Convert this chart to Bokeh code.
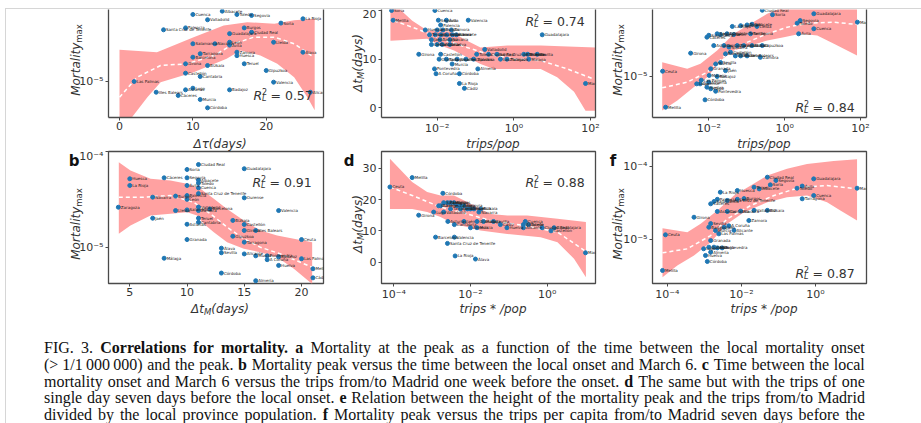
import html as _html
import numpy as np
from bokeh.plotting import figure
from bokeh.models import Range1d, FixedTicker, CustomJSTickFormatter, LinearAxis, Label, Div
from bokeh.layouts import row, column
from bokeh.embed import file_html
from bokeh.resources import INLINE
from bokeh.core.properties import value

# ---------------- panel a : Mortality peak vs delta tau (days) ----------------
a_days = [10, 14, 16, 18, 12, 25, 22, 6, 9, 17, 18, 15, 10, 13, 15, 15, 21, 25, 16, 16,
          10, 11, 17, 9, 12, 20, 9, 11, 2, 21, 9, 10, 5, 8, 15, 26, 11, 12]
a_log_mort = [-4.30, -4.265, -4.30, -4.31, -4.355, -4.345, -4.39, -4.46, -4.44, -4.44,
              -4.485, -4.50, -4.606, -4.606, -4.59, -4.62, -4.59, -4.694, -4.694, -4.73,
              -4.746, -4.71, -4.815, -4.815, -4.833, -4.885, -4.913, -4.948, -5.0, -5.007,
              -5.087, -5.07, -5.112, -5.146, -5.087, -5.112, -5.188, -5.275]
a_names = ["Cuenca", "Albacete", "Toledo", "Segovia", "Valladolid", "La Rioja", "Soria",
           "Santa Cruz de Tenerife", "Palencia", "Burgos", "Ciudad Real", "Guadalajara",
           "Salamanca", "Navarra", "León", "Ávila", "Lleida", "Álava", "Zamora", "Huesca",
           "Barcelona", "Tarragona", "Teruel", "Girona", "Bizkaia", "Gipuzkoa", "Castellón",
           "Cantabria", "Las Palmas", "Valencia", "Asturias", "Lugo", "Illes Balears",
           "Cáceres", "Badajoz", "Alicante", "Murcia", "Córdoba"]
a_up_x = [0, 5.1, 10.1, 14.2, 17.4, 21.1, 23.8, 26.6]
a_up = [-4.669, -4.694, -4.537, -4.415, -4.38, -4.397, -4.36, -4.345]
a_lo_x = [0, 1.7, 3.8, 5.6, 10.1, 14.6, 16.5, 19.2, 21.5, 23.8, 25.6, 26.6]
a_lo = [-5.6, -5.373, -5.164, -5.007, -4.903, -4.763, -4.676, -4.728, -4.815, -4.955, -5.164, -5.30]
a_fit_x = [0, 2.4, 5.6, 9.2, 12.9, 15.6, 18.3, 21.1, 23.8, 26.5]
a_fit = [-5.164, -4.955, -4.833, -4.815, -4.728, -4.606, -4.537, -4.537, -4.606, -4.746]

# ---------------- panel c : delta t_M vs trips/pop ----------------
c_log_trips = [-3.19, -3.15, -2.06, -1.97, -1.76, -1.19, -1.91, -2.0, -2.31, -1.85,
               -1.63, -2.2, -2.05, -1.9, -1.75, -1.6, -1.5, 0.74, -2.15, -1.93,
               -1.67, -2.15, -2.0, -1.87, -1.67, -2.48, -1.91, -1.95, -1.76, -1.61,
               -1.48, -0.76, -0.66, -0.97, -0.44, -0.35, -0.18, 0.26, 0.36, 0.61,
               0.39, -0.94, -2.07, -2.03, -1.42, -1.42, -1.29, 1.87, -1.25, -1.05]
c_days = [20, 18, 20, 18, 18, 18, 17, 16, 16, 16, 16, 15, 15, 15, 15, 15, 15, 15, 14, 14,
          14, 13, 13, 13, 13, 11, 11, 10, 10, 9, 10, 12, 11, 11, 11, 10, 10, 11, 11, 11,
          10, 8, 8, 7, 7, 5, 4, 5, 10, 10]
c_names = ["Soria", "Melilla", "Cuenca", "Segovia", "Ávila", "Valencia", "Palencia", "León",
           "Huesca", "Burgos", "Zamora", "Teruel", "Lugo", "Ourense", "Salamanca", "Cáceres",
           "Albacete", "Guadalajara", "Jaén", "Badajoz", "Navarra", "Lleida", "Cantabria",
           "Asturias", "Huelva", "Girona", "Castellón", "Granada", "Tarragona", "Murcia",
           "Alicante", "Valladolid", "Ciudad Real", "Toledo", "Santa Cruz de Tenerife",
           "Las Palmas", "Zaragoza", "Barcelona", "Bizkaia", "Sevilla", "Málaga", "Almería",
           "Pontevedra", "A Coruña", "Córdoba", "La Rioja", "Cádiz", "Madrid",
           "Illes Balears", "Gipuzkoa"]
c_up_x = [-3.22, -2.65, -2.26, -1.65, -1.22, -0.87, -0.17, 0.70, 2.13]
c_up = [22.0, 17.9, 15.9, 15.7, 13.8, 12.4, 12.8, 12.8, 12.4]
c_lo_x = [-3.22, -2.26, -1.91, -1.56, -1.22, -0.87, -0.52, 0.70, 1.13, 1.57, 1.87, 2.13]
c_lo = [13.8, 14.2, 12.8, 11.8, 10.4, 9.0, 8.0, 8.0, 6.3, 3.3, -0.6, -0.6]
c_fit_x = [-3.13, -2.52, -1.91, -1.22, -0.70, 0.0, 0.70, 1.39, 2.09]
c_fit = [17.9, 16.2, 14.2, 12.4, 11.1, 10.05, 9.7, 8.0, 5.9]

# ---------------- panel e : Mortality peak vs trips/pop ----------------
e_log_trips = [-3.14, -3.22, -2.48, -2.32, -2.23, -2.10, -2.05, -2.0, -1.95, -1.99,
               -1.95, -1.82, -2.05, -2.0, -1.78, -1.69, -1.52, -1.34, -1.87, -1.6,
               -1.47, -1.25, -1.08, -0.86, -0.59, -1.38, -1.16, -0.99, -0.86, -0.73,
               -0.59, -0.32, -0.90, 0.33, 0.41, 0.77, 0.37, 0.77, 1.92, -1.56,
               -1.43, -1.30, -1.16, -0.99, -0.64, -1.69, -1.56, -1.78, -2.2, -1.82]
e_log_mort = [-5.417, -4.928, -4.683, -5.10, -5.10, -5.317, -5.145, -5.077, -5.167, -4.986,
              -4.896, -4.83, -4.466, -4.44, -4.42, -4.43, -4.42, -4.43, -4.58, -4.58,
              -4.60, -4.58, -4.58, -4.58, -4.58, -4.32, -4.31, -4.30, -4.29, -4.32,
              -4.10, -4.16, -4.42, -4.276, -4.24, -4.148, -4.42, -4.352, -4.262, -4.692,
              -4.67, -4.72, -4.72, -4.72, -4.74, -4.81, -4.92, -5.0, -5.05, -5.20]
e_names = ["Melilla", "Ceuta", "Girona", "Lugo", "Ourense", "Córdoba", "Huelva", "Almería",
           "Cádiz", "Málaga", "Granada", "Murcia", "Cáceres", "Salamanca",
           "Santa Cruz de Tenerife", "Palencia", "Burgos", "León", "Asturias", "Cantabria",
           "Navarra", "Zaragoza", "Valladolid", "Bizkaia", "Gipuzkoa", "La Rioja", "Huesca",
           "Teruel", "Albacete", "Lleida", "Ciudad Real", "Soria", "Tarragona", "Toledo",
           "Segovia", "Guadalajara", "Ávila", "Cuenca", "Madrid", "Barcelona", "Castellón",
           "Valencia", "Alicante", "Illes Balears", "Zamora", "Sevilla", "Jaén", "Badajoz",
           "Las Palmas", "Pontevedra"]
e_up_x = [-3.23, -2.57, -2.22, -1.78, -1.34, -0.90, -0.46, -0.02, 0.42, 0.86, 1.30, 1.91]
e_up = [-4.806, -4.896, -4.828, -4.647, -4.42, -4.285, -4.149, -4.058, -4.013, -3.95, -3.90, -3.90]
e_lo_x = [-3.23, -2.83, -2.40, -2.04, -1.69, -1.34, -0.90, -0.46, -0.02, 0.42, 0.86, 1.30, 1.91]
e_lo = [-5.462, -5.326, -5.145, -5.009, -4.783, -4.647, -4.579, -4.511, -4.466, -4.42,
        -4.443, -4.556, -4.715]
e_fit_x = [-3.23, -2.57, -2.04, -1.52, -1.08, -0.46, 0.07, 0.60, 1.30, 1.91]
e_fit = [-5.154, -5.077, -4.941, -4.692, -4.556, -4.42, -4.33, -4.276, -4.262, -4.294]

# ---------------- panel b : Mortality peak vs delta t_M ----------------
b_days = [5, 5, 4, 7, 7, 8, 8, 9, 9, 10, 10, 10, 10, 10, 10, 10, 10, 11, 11, 11,
          11, 11, 11, 11, 11, 11, 12, 13, 13, 14, 14, 15, 15, 15, 15, 15, 15, 16, 16, 16,
          17, 17, 18, 18, 18, 20, 20, 21, 21, 13]
b_log_mort = [-4.285, -4.355, -4.582, -4.477, -4.697, -4.275, -5.115, -4.466, -4.617, -4.188,
              -4.275, -4.355, -4.46, -4.50, -4.61, -4.76, -4.92, -4.136, -4.30, -4.33,
              -4.38, -4.44, -4.58, -4.617, -4.697, -4.74, -4.60, -5.058, -5.27, -4.72,
              -4.885, -4.18, -4.484, -4.762, -4.825, -4.947, -5.07, -4.825, -5.09, -5.35,
              -5.09, -5.13, -4.617, -5.10, -5.19, -4.92, -5.12, -5.225, -5.32, -5.01]
b_names = ["Huesca", "La Rioja", "Zaragoza", "Navarra", "Jaén", "Cáceres", "Málaga", "Burgos",
           "Lleida", "Soria", "Segovia", "Ávila", "Palencia", "León", "Salamanca", "Asturias",
           "Granada", "Ciudad Real", "Albacete", "Toledo", "Cuenca", "Santa Cruz de Tenerife",
           "Valladolid", "Zamora", "Teruel", "Cantabria", "Barcelona", "Sevilla", "Córdoba",
           "Bizkaia", "Gipuzkoa", "Guadalajara", "Ourense", "Castellón", "Girona", "Tarragona",
           "Alicante", "Illes Balears", "Murcia", "Almería", "Pontevedra", "A Coruña",
           "Valencia", "Badajoz", "Huelva", "Ceuta", "Las Palmas", "Melilla", "Cádiz", "Álava"]
b_up_x = [4.04, 5.06, 6.81, 8.55, 10.01, 11.17, 12.34, 13.50, 14.96, 16.41, 17.87, 19.33, 20.93]
b_up = [-4.111, -4.199, -4.285, -4.303, -4.338, -4.39, -4.494, -4.60, -4.721, -4.825,
        -4.878, -4.912, -4.947]
b_lo_x = [4.04, 5.06, 6.81, 8.55, 10.01, 10.88, 11.46, 12.34, 13.50, 14.96, 16.41, 17.87,
          19.33, 20.93]
b_lo = [-4.86, -4.773, -4.669, -4.651, -4.634, -4.669, -4.756, -4.843, -4.947, -5.017,
        -5.052, -5.104, -5.226, -5.383]
b_fit_x = [4.04, 6.22, 8.55, 10.59, 12.05, 13.50, 14.96, 16.41, 18.16, 20.93]
b_fit = [-4.477, -4.477, -4.46, -4.53, -4.651, -4.791, -4.912, -5.0, -5.07, -5.209]

# ---------------- panel d : delta t_M vs trips*/pop ----------------
d_log_trips = [-4.10, -3.52, -3.35, -2.72, -2.96, -2.83, -2.78, -2.70, -2.60, -2.52,
               -2.43, -2.35, -2.26, -2.17, -2.08, -2.0, -1.91, -1.78, -2.91, -2.42,
               -2.60, -2.40, -1.87, -2.59, -2.42, -2.17, -1.83, -1.66, -1.40, -1.22,
               -1.05, -2.0, -1.83, -0.62, -0.62, -0.57, -0.49, -0.13, 0.18, 0.10,
               1.0, -2.26, -2.52, -2.70, -1.73]
d_days = [24, 27, 15, 22, 16, 18, 18, 19, 19, 19, 19, 18, 18, 18, 17, 17, 17, 16, 8, 8,
          6, 2, 1, 13, 12, 13, 13, 13, 13, 12, 11, 11, 11, 12, 11, 13, 12, 11, 11, 10,
          3, 17, 17, 16, 17]
d_names = ["Ceuta", "Melilla", "Girona", "Córdoba", "Lugo", "Ourense", "Cáceres", "Salamanca",
           "Palencia", "León", "Burgos", "Zamora", "Ávila", "Segovia", "Soria", "Teruel",
           "Huesca", "Navarra", "Barcelona", "Valencia", "Santa Cruz de Tenerife", "La Rioja",
           "Álava", "Asturias", "Cantabria", "Jaén", "Granada", "Málaga", "Sevilla", "Cádiz",
           "Huelva", "Almería", "Murcia", "Albacete", "Alicante", "Cuenca", "Toledo",
           "Ciudad Real", "Guadalajara", "Castellón", "Madrid", "Lleida", "Tarragona",
           "Valladolid", "Bizkaia"]
d_up_x = [-4.10, -3.52, -3.13, -2.78, -2.43, -2.085, -1.74, -1.48, -1.04, -0.52, 0.27, 1.01]
d_up = [33.0, 25.6, 22.4, 21.3, 21.3, 19.2, 17.0, 15.4, 14.9, 14.9, 13.9, 12.8]
d_lo_x = [-4.10, -3.52, -3.13, -2.78, -2.43, -2.085, -1.74, -1.04, -0.17, 0.27, 0.70, 1.01]
d_lo = [17.0, 17.0, 16.0, 14.4, 12.2, 11.2, 10.1, 9.0, 8.0, 6.4, 1.1, -4.8]
d_fit_x = [-4.10, -3.52, -2.78, -2.085, -1.48, -0.60, 0.27, 1.01]
d_fit = [24.0, 21.3, 17.6, 15.4, 13.3, 11.7, 9.6, 3.4]

# ---------------- panel f : Mortality peak vs trips*/pop ----------------
f_log_trips = [-4.13, -4.05, -3.28, -2.92, -2.97, -2.83, -3.02, -2.88, -2.74, -2.65,
               -2.52, -2.83, -2.88, -2.83, -2.70, -2.61, -2.47, -2.34, -2.20, -2.83,
               -2.74, -2.65, -2.38, -2.11, -1.93, -2.57, -2.11, -1.66, -1.52, -1.22,
               -1.30, -1.07, -2.65, -2.38, -2.02, -1.66, -1.30, -1.80, -0.50, -0.36,
               -0.05, -0.36, -0.05, 1.12]
f_log_mort = [-5.417, -4.932, -4.693, -5.295, -5.213, -5.168, -5.122, -5.10, -5.10, -5.11,
              -5.11, -5.01, -4.829, -4.78, -4.874, -4.919, -4.83, -4.81, -4.87, -4.511,
              -4.48, -4.45, -4.465, -4.45, -4.44, -4.353, -4.33, -4.285, -4.308, -4.253,
              -4.149, -4.194, -4.615, -4.615, -4.61, -4.60, -4.60, -4.738, -4.299, -4.27,
              -4.172, -4.443, -4.398, -4.299]
f_names = ["Melilla", "Ceuta", "Girona", "Córdoba", "Huelva", "Almería", "Lugo", "Ourense",
           "Cádiz", "Málaga", "Pontevedra", "Granada", "Badajoz", "Sevilla", "Murcia",
           "Las Palmas", "Jaén", "A Coruña", "Alicante", "Cáceres", "Salamanca", "Palencia",
           "Santa Cruz de Tenerife", "León", "Burgos", "La Rioja", "Huesca", "Teruel",
           "Albacete", "Soria", "Ciudad Real", "Segovia", "Asturias", "Cantabria", "Navarra",
           "Valladolid", "Bizkaia", "Zamora", "Toledo", "Ávila", "Guadalajara", "Tarragona",
           "Cuenca", "Madrid"]
f_up_x = [-4.13, -3.46, -3.10, -2.65, -2.20, -1.75, -1.30, -0.77, -0.23, 0.49, 1.12]
f_up = [-4.842, -4.896, -4.783, -4.602, -4.398, -4.262, -4.127, -4.036, -3.97, -3.93, -3.906]
f_lo_x = [-4.13, -3.73, -3.28, -2.83, -2.38, -1.93, -1.30, -0.77, -0.23, 0.31, 0.67, 1.12]
f_lo = [-5.508, -5.349, -5.213, -5.032, -4.783, -4.624, -4.489, -4.421, -4.398, -4.489,
        -4.602, -4.738]
f_fit_x = [-4.13, -3.46, -2.83, -2.38, -1.75, -1.12, -0.41, 0.31, 1.12]
f_fit = [-5.177, -5.123, -4.942, -4.715, -4.534, -4.398, -4.285, -4.262, -4.308]

r2_values = ["0.57", "0.74", "0.84", "0.91", "0.88", "0.87"]
panel_letters = ["b", "d", "f"]

caption_lines = [
    "FIG. 3. *Correlations *for *mortality. *a Mortality at the peak as a function of the time between the local mortality onset",
    "(>\u00a01/1\u2009000\u2009000) and the peak. *b Mortality peak versus the time between the local onset and March 6. *c Time between the local",
    "mortality onset and March 6 versus the trips from/to Madrid one week before the onset. *d The same but with the trips of one",
    "single day seven days before the local onset. *e Relation between the height of the mortality peak and the trips from/to Madrid",
    "divided by the local province population. *f Mortality peak versus the trips per capita from/to Madrid seven days before the",
]

# ---------------- styling ----------------
FONT = "DejaVu Sans"
AX = "#4a4a4a"
TXT = "#333333"
BAND = "#ffa1a1"
DOT = "#1f77b4"

LOG_JS = """
const sup = {"-": "\\u207B", "0": "\\u2070", "1": "\\u00B9", "2": "\\u00B2", "3": "\\u00B3",
             "4": "\\u2074", "5": "\\u2075", "6": "\\u2076", "7": "\\u2077", "8": "\\u2078", "9": "\\u2079"};
const e = Math.round(Math.log10(tick));
return "10" + String(e).split("").map(c => sup[c]).join("");
"""


def pw(v):
    return list(10.0 ** np.array(v, dtype=float))


def make_panel(width, height, borders, xr, yr, xlog, ylog, xticks, yticks, top_row):
    p = figure(width=width, height=height,
               x_range=Range1d(*xr), y_range=Range1d(*yr),
               x_axis_type="log" if xlog else "linear",
               y_axis_type="log" if ylog else "linear",
               output_backend="svg", toolbar_location=None,
               min_border_left=borders[0], min_border_right=borders[1],
               min_border_top=borders[2], min_border_bottom=borders[3],
               background_fill_color="white", border_fill_color="white")
    p.xgrid.visible = False
    p.ygrid.visible = False
    p.xaxis.ticker = FixedTicker(ticks=xticks)
    p.yaxis.ticker = FixedTicker(ticks=yticks)
    if xlog:
        p.xaxis.formatter = CustomJSTickFormatter(code=LOG_JS)
    if ylog:
        p.yaxis.formatter = CustomJSTickFormatter(code=LOG_JS)
    for ax in (p.xaxis[0], p.yaxis[0]):
        ax.major_label_text_font = FONT
        ax.major_label_text_font_size = "11px"
        ax.major_label_text_color = TXT
        ax.major_tick_out = 3
        ax.major_tick_in = 0
        ax.major_tick_line_color = AX
        ax.minor_tick_line_color = None
        ax.axis_line_color = AX if top_row else None
        ax.axis_line_width = 1.3
    p.xaxis[0].major_label_standoff = 1
    p.yaxis[0].major_label_standoff = 2
    if top_row:
        p.outline_line_color = None
        rax = LinearAxis(ticker=FixedTicker(ticks=[]), major_label_text_font_size="0px",
                         major_tick_out=0, major_tick_in=0, minor_tick_out=0,
                         major_label_standoff=0, axis_line_color=AX, axis_line_width=1.3)
        p.add_layout(rax, "right")
    else:
        p.outline_line_color = AX
        p.outline_line_width = 1.3
    return p


def draw(p, ux, uy, lx, ly, fx, fy, px, py, names):
    xs = list(ux) + list(lx)[::-1]
    ys = list(uy) + list(ly)[::-1]
    p.patch(xs, ys, fill_color=BAND, line_color=None)
    p.line(fx, fy, line_color="white", line_width=1.5, line_dash="4 3")
    p.scatter(px, py, size=4, fill_color=DOT, line_color=DOT)
    p.text(px, py, text=names, text_font=value(FONT), text_font_size="4px",
           text_color="#222222", text_baseline="middle", x_offset=2.5)


def r2(p, sx, sy, val):
    common = dict(x_units="screen", y_units="screen", text_font=FONT,
                  text_color=TXT, text_baseline="alphabetic")
    p.add_layout(Label(x=sx, y=sy, text="R", text_font_size="12.5px",
                       text_font_style="italic", **common))
    p.add_layout(Label(x=sx + 8.5, y=sy + 4.5, text="2", text_font_size="8px", **common))
    p.add_layout(Label(x=sx + 8.5, y=sy - 3, text="L", text_font_size="8px",
                       text_font_style="italic", **common))
    p.add_layout(Label(x=sx + 17, y=sy, text="= " + val, text_font_size="12.5px", **common))


MORT_TICKS = [1e-5, 1e-4]
TRIP_TICKS = [1e-4, 1e-2, 1.0, 100.0]

# top row (frames clipped at the top of the page)
pa = make_panel(334, 140, (102, 17, 0, 32), (-1.5, 27.8), (10 ** -5.376, 10 ** -4.248),
                False, True, [0, 10, 20], MORT_TICKS, True)
draw(pa, a_up_x, pw(a_up), a_lo_x, pw(a_lo), a_fit_x, pw(a_fit), a_days, pw(a_log_mort), a_names)
r2(pa, 145, 22, r2_values[0])

pc = make_panel(263, 140, (41, 8, 0, 32), (10 ** -3.453, 10 ** 2.13), (-1.99, 20.2),
                True, False, TRIP_TICKS, [0, 10, 20], True)
draw(pc, pw(c_up_x), c_up, pw(c_lo_x), c_lo, pw(c_fit_x), c_fit, pw(c_log_trips), c_days, c_names)
r2(pc, 144, 96, r2_values[1])

pe = make_panel(315, 140, (49, 52, 0, 32), (10 ** -3.486, 10 ** 2.16), (10 ** -5.557, 10 ** -4.09),
                True, True, TRIP_TICKS, MORT_TICKS, True)
draw(pe, pw(e_up_x), pw(e_up), pw(e_lo_x), pw(e_lo), pw(e_fit_x), pw(e_fit),
     pw(e_log_trips), pw(e_log_mort), e_names)
r2(pe, 143, 10, r2_values[2])

# bottom row
pb = make_panel(334, 169, (102, 17, 2, 35), (3.14, 21.92), (10 ** -5.379, 10 ** -4.0),
                False, True, [5, 10, 15, 20], MORT_TICKS, False)
draw(pb, b_up_x, pw(b_up), b_lo_x, pw(b_lo), b_fit_x, pw(b_fit), b_days, pw(b_log_mort), b_names)
r2(pb, 144, 101, r2_values[3])

pd_ = make_panel(263, 169, (41, 8, 2, 35), (10 ** -4.32, 10 ** 1.26), (-6.8, 35.33),
                 True, False, TRIP_TICKS, [0, 10, 20, 30], False)
draw(pd_, pw(d_up_x), d_up, pw(d_lo_x), d_lo, pw(d_fit_x), d_fit, pw(d_log_trips), d_days, d_names)
r2(pd_, 144, 101, r2_values[4])

pf = make_panel(315, 169, (49, 52, 2, 35), (10 ** -4.40, 10 ** 1.375), (10 ** -5.594, 10 ** -3.80),
                True, True, TRIP_TICKS, MORT_TICKS, False)
draw(pf, pw(f_up_x), pw(f_up), pw(f_lo_x), pw(f_lo), pw(f_fit_x), pw(f_fit),
     pw(f_log_trips), pw(f_log_mort), f_names)
r2(pf, 143, 10, r2_values[5])

# ---------------- axis titles, panel letters and caption (HTML text) ----------------
DIV_X, DIV_Y = 6, 318  # page position of the caption block
SUB = '<span style="font-size:8.5px;position:relative;top:2px;%s">%s</span>'
T_MORT = "Mortality" + SUB % ("font-style:normal;", "max")
T_DTM = "\u0394t" + SUB % ("", "M") + "(days)"
T_DTAU = "\u0394\u03c4(days)"


def overlay(cx, cy, inner, rot=False, extra=""):
    tr = "translate(-50%,-50%)" + (" rotate(-90deg)" if rot else "")
    return ('<div style="position:absolute;left:%.1fpx;top:%.1fpx;transform:%s;'
            'white-space:nowrap;line-height:1;%s">%s</div>'
            % (cx - DIV_X, cy - DIV_Y, tr, extra, inner))


AXT = "font-family:'DejaVu Sans';font-style:italic;font-size:12px;color:#333;"
LET = "font-family:'DejaVu Sans';font-weight:bold;font-size:15px;color:#111;"
overlays = "".join([
    overlay(215, 139, T_DTAU, extra=AXT),
    overlay(488, 139, "trips/pop", extra=AXT),
    overlay(759, 139, "trips/pop", extra=AXT),
    overlay(215, 304, T_DTM, extra=AXT),
    overlay(488, 304, "trips * /pop", extra=AXT),
    overlay(759, 304, "trips * /pop", extra=AXT),
    overlay(71, 55, T_MORT, rot=True, extra=AXT),
    overlay(353, 58, T_DTM, rot=True, extra=AXT),
    overlay(613, 55, T_MORT, rot=True, extra=AXT),
    overlay(71, 219, T_MORT, rot=True, extra=AXT),
    overlay(353, 219, T_DTM, rot=True, extra=AXT),
    overlay(613, 219, T_MORT, rot=True, extra=AXT),
    overlay(69, 156, panel_letters[0], extra=LET),
    overlay(344, 156, panel_letters[1], extra=LET),
    overlay(608, 156, panel_letters[2], extra=LET),
])


def cap_line(line):
    items = []
    for w in line.split(" "):
        bold = w.startswith("*")
        t = _html.escape(w[1:] if bold else w)
        st = "white-space:nowrap;flex:none;" + ("font-weight:bold;" if bold else "")
        items.append('<span style="%s">%s</span>' % (st, t))
    return ('<div style="display:flex;justify-content:space-between;height:16.75px;'
            'line-height:16.75px;">' + "".join(items) + "</div>")


CAP_H = 104
caption = ('<div style="position:absolute;left:0;top:0;width:912px;height:%dpx;overflow:hidden;">'
           '<div style="padding:17px 0 0 33px;width:854px;font-family:\'Liberation Serif\',serif;'
           'font-size:16px;color:#111;">' % CAP_H + "".join(cap_line(l) for l in caption_lines)
           + "</div></div>")

cap = Div(text='<div style="position:relative;width:912px;height:%dpx;">' % CAP_H + caption + overlays + "</div>",
          width=912, height=CAP_H)

layout = column(row(pa, pc, pe), row(pb, pd_, pf), cap, margin=(8, 0, 0, 5),
                styles={"border-top": "1px solid #d6d6d6", "border-left": "1px solid #d6d6d6"})

open("out.html", "w", encoding="utf-8").write(file_html(layout, INLINE))
